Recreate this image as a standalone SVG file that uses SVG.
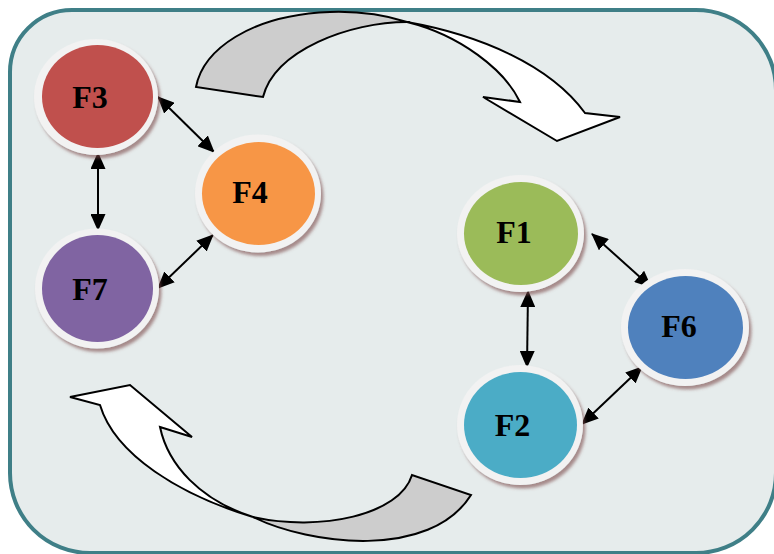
<svg xmlns="http://www.w3.org/2000/svg" width="774" height="554" viewBox="0 0 774 554">
<style>
.lbl{font-family:"Liberation Serif","Times New Roman",serif;font-weight:bold;font-size:32px;fill:#000;text-anchor:middle}
.rim{fill:#F2F2F2;filter:url(#sh)}
.con{stroke:#000;stroke-width:2;fill:none;marker-start:url(#ah);marker-end:url(#ah)}
.band{stroke:#000;stroke-width:2;stroke-linejoin:miter}
</style>
<defs>
<filter id="sh" x="-20%" y="-20%" width="140%" height="140%">
<feDropShadow dx="2.5" dy="3.5" stdDeviation="1.5" flood-color="#7A4A4A" flood-opacity="0.6"/>
</filter>
<marker id="ah" viewBox="0 0 17 15" refX="16" refY="7.5" markerWidth="17" markerHeight="15" markerUnits="userSpaceOnUse" orient="auto-start-reverse">
<path d="M0,0 L17,7.5 L0,15 Z" fill="#000"/>
</marker>
</defs>
<rect x="0" y="0" width="774" height="554" fill="#FFFFFF"/>
<path d="M10,72 A62,62 0 0 1 72,10 L696,10 A80,80 0 0 1 776,90 L776,473 A80,80 0 0 1 696,553 L90,553 A80,80 0 0 1 10,473 Z" fill="#E6ECEC" stroke="#3F7F87" stroke-width="4"/>

<g id="top-arrow">
<path class="band" fill="#CDCDCD" d="M196,87 C203,50 250,15 330,12 C360,11 385,15 407,22 C350,22 275,50 263,97 Z"/>
<path class="band" fill="#FFFFFF" d="M407,22 C480,35 550,65 585,113 L620,117 L557,141 L483,97 L520,102 C505,70 460,35 407,22 Z"/>
</g>
<g id="bottom-arrow">
<path class="band" fill="#CDCDCD" d="M253,517 C310,545 430,560 471,495 L412,475 C400,515 320,532 253,517 Z"/>
<path class="band" fill="#FFFFFF" d="M253,517 C180,495 115,455 100,405 L70,397 L130,385 L192,437 L160,427 C168,465 200,500 253,517 Z"/>
</g>

<g id="connectors">
<line class="con" x1="158" y1="97" x2="214" y2="152"/>
<line class="con" x1="98" y1="153" x2="98" y2="230"/>
<line class="con" x1="213" y1="235" x2="158" y2="288"/>
<line class="con" x1="592" y1="234" x2="651" y2="287"/>
<line class="con" x1="528" y1="291" x2="527" y2="367"/>
<line class="con" x1="642" y1="367" x2="582" y2="424"/>
</g>

<g id="F3">
<ellipse class="rim" cx="96" cy="97" rx="62" ry="58"/>
<ellipse cx="97.5" cy="96.5" rx="55.5" ry="51.5" fill="#C0504D"/>
<text class="lbl" x="90" y="108">F3</text>
</g>
<g id="F4">
<ellipse class="rim" cx="258" cy="193.5" rx="63" ry="59"/>
<ellipse cx="258.5" cy="193.5" rx="56.5" ry="51.5" fill="#F79646"/>
<text class="lbl" x="250" y="203">F4</text>
</g>
<g id="F7">
<ellipse class="rim" cx="97" cy="288.5" rx="62" ry="60"/>
<ellipse cx="97.5" cy="288.5" rx="55.5" ry="53.5" fill="#8064A2"/>
<text class="lbl" x="90" y="300">F7</text>
</g>
<g id="F1">
<ellipse class="rim" cx="520.5" cy="233.5" rx="63.5" ry="58.5"/>
<ellipse cx="521" cy="233.5" rx="57" ry="51.5" fill="#9BBB59"/>
<text class="lbl" x="514" y="243">F1</text>
</g>
<g id="F6">
<ellipse class="rim" cx="685" cy="327.5" rx="64" ry="58.5"/>
<ellipse cx="685.5" cy="327.5" rx="57.5" ry="51.5" fill="#4F81BD"/>
<text class="lbl" x="679" y="337">F6</text>
</g>
<g id="F2">
<ellipse class="rim" cx="520" cy="425" rx="63" ry="60"/>
<ellipse cx="520.5" cy="425" rx="56.5" ry="53" fill="#4BACC6"/>
<text class="lbl" x="512.5" y="436">F2</text>
</g>
</svg>
